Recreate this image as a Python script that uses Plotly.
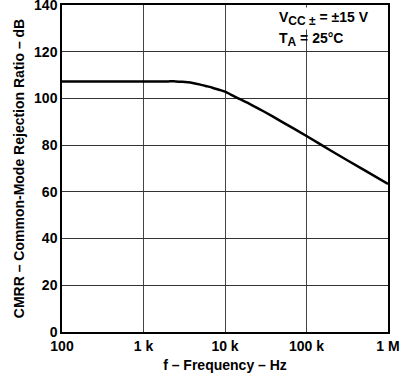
import plotly.graph_objects as go

freq_hz = [100, 300, 1000, 2000, 2500, 3000, 3500, 4000, 5000, 6000, 7000, 8500, 10000, 12500, 15000, 20000, 30000, 50000, 100000, 200000, 500000, 1000000]
cmrr_db = [107.3, 107.3, 107.3, 107.3, 107.3, 107.15, 106.9, 106.6, 105.9, 105.2, 104.6, 103.7, 102.9, 101.2, 99.8, 97.7, 94.4, 90.0, 83.9, 77.6, 69.5, 63.4]

x_tickvals = [100, 1000, 10000, 100000, 1000000]
x_ticktext = ["100", "1 k", "10 k", "100 k", "1 M"]
y_tickvals = [0, 20, 40, 60, 80, 100, 120, 140]

font = dict(family="Liberation Sans, Arial, sans-serif", size=14, color="black", weight="bold")

fig = go.Figure()
fig.add_trace(go.Scatter(x=freq_hz, y=cmrr_db, mode="lines",
                         line=dict(color="black", width=2.5, shape="spline", smoothing=0.5),
                         showlegend=False, hoverinfo="skip"))

fig.update_layout(
    width=400, height=376,
    margin=dict(l=62, r=12, t=5, b=44, autoexpand=False),
    paper_bgcolor="white", plot_bgcolor="white",
    font=font,
    xaxis=dict(type="log", range=[2, 6], tickvals=x_tickvals, ticktext=x_ticktext,
               showgrid=True, gridcolor="#444", gridwidth=1,
               showline=True, linecolor="black", linewidth=1.5, mirror=True,
               ticks="", zeroline=False, tickfont=font, automargin=False,
               ticklabeloverflow="allow",
               title=dict(text="f – Frequency – Hz", font=font, standoff=8)),
    yaxis=dict(range=[0, 140], tickvals=y_tickvals,
               showgrid=True, gridcolor="#333", gridwidth=1,
               showline=True, linecolor="black", linewidth=1.5, mirror=True,
               ticks="", zeroline=False, tickfont=font, automargin=False,
               ticklabeloverflow="allow",
               title=dict(text="CMRR – Common-Mode Rejection Ratio – dB", font=font, standoff=6)),
    annotations=[
        dict(x=0.66, y=0.995, xref="paper", yref="paper", xanchor="left", yanchor="top",
             text="V<sub><span style='font-size:12px'>CC ±</span></sub> = ±15 V",
             showarrow=False, font=font, bgcolor="white"),
        dict(x=0.66, y=0.93, xref="paper", yref="paper", xanchor="left", yanchor="top",
             text="T<sub><span style='font-size:12px'>A</span></sub> = 25°C",
             showarrow=False, font=font),
    ],
)

fig.write_html("out.html", config={"displayModeBar": False},
               post_script="document.body.style.margin='0';document.body.style.overflow='hidden';")
